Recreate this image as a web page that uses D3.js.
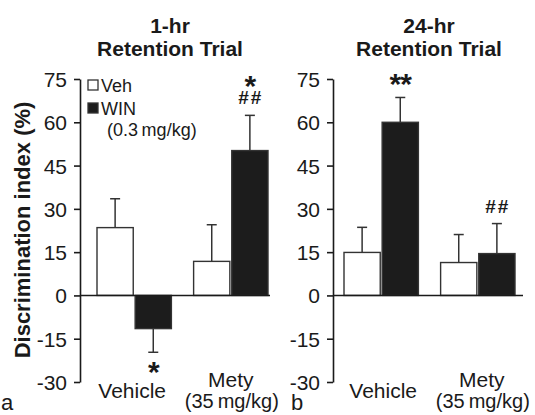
<!DOCTYPE html>
<html>
<head>
<meta charset="utf-8">
<script src="https://cdn.jsdelivr.net/npm/d3@7"></script>
<style>
  body { margin: 0; background: #fff; }
  text { font-family: "Liberation Sans", Arial, sans-serif; fill: #1a1a1a; }
</style>
</head>
<body>
<svg id="chart" width="535" height="415"></svg>
<script>
// data
var groups = ["Vehicle", "Mety"];
var series = ["Veh", "WIN"];
var yTicks = [-30, -15, 0, 15, 30, 45, 60, 75];
// panel a: 1-hr retention trial
var hr1Mean = [[23.5, -11.5], [11.8, 50.2]];
var hr1Sem = [[10.0, 8.2], [12.7, 12.2]];
var hr1Marks = [["", "*"], ["", "*|##"]];
// panel b: 24-hr retention trial
var hr24Mean = [[14.9, 60.0], [11.4, 14.5]];
var hr24Sem = [[8.7, 8.6], [9.7, 10.4]];
var hr24Marks = [["", "**"], ["", "##"]];

var svg = d3.select("#chart");
var y = d3.scaleLinear().domain([-30, 75]).range([382, 79]);
var ink = "#1a1a1a";

//draw significance marks, stacked from the error bar tip outward
function drawMarks(g, cx, tipY, up, m) {
  var parts = m.split("|").reverse(), cur = tipY, prevHash = false;
  parts.forEach(function(p) {
    var star = p.indexOf("*") >= 0;
    var t = g.append("text").attr("x", cx).attr("text-anchor", "middle")
      .style("font-weight", "bold").text(p);
    if (star) {
      //asterisk glyph sits between ~0.39em and ~0.72em above the baseline
      t.style("font-size", "30px").style("letter-spacing", "-1px");
      if (up) {
        var gap = prevHash ? 7 : 15;
        t.attr("y", cur - gap + 11.7); cur = cur - gap - 10;
      } else {
        t.attr("y", cur + 8 + 21.6);
      }
    } else {
      t.style("font-size", "19px").style("letter-spacing", "2px").attr("dx", 1);
      t.attr("y", cur - 11); cur = cur - 11 - 13; prevHash = true;
    }
  });
}

function panel(opts) {
  var g = svg.append("g");
  var x0 = d3.scaleBand().domain(groups).range(opts.barRange).paddingInner(0.23);
  var x1 = d3.scaleBand().domain(series).range([0, x0.bandwidth()]).paddingInner(0.05);

  //axis
  var ax = g.append("g").attr("transform", "translate(" + opts.axisX + ",0)")
    .call(d3.axisLeft(y).tickValues(yTicks).tickFormat(function(d) { return String(d); })
      .tickSize(6).tickPadding(7).tickSizeOuter(0));
  ax.select(".domain").attr("stroke", ink).attr("stroke-width", 1.6);
  ax.selectAll(".tick line").attr("stroke", ink).attr("stroke-width", 1.6);
  ax.selectAll(".tick text").style("font-size", "21px").attr("fill", ink).attr("font-family", null)
    .attr("dy", "0.36em");

  //bars
  groups.forEach(function(grp, gi) {
    series.forEach(function(s, si) {
      var v = opts.mean[gi][si], e = opts.sem[gi][si];
      var bx = x0(grp) + x1(s), bw = x1.bandwidth(), cx = bx + bw / 2;
      var tip = v + (v >= 0 ? e : -e);
      g.append("line").attr("x1", cx).attr("x2", cx).attr("y1", y(v)).attr("y2", y(tip))
        .attr("stroke", "#333").attr("stroke-width", 1.5);
      g.append("line").attr("x1", cx - 5).attr("x2", cx + 5).attr("y1", y(tip)).attr("y2", y(tip))
        .attr("stroke", "#333").attr("stroke-width", 1.5);
      g.append("rect").attr("x", bx).attr("width", bw)
        .attr("y", y(Math.max(0, v))).attr("height", Math.abs(y(v) - y(0)))
        .attr("fill", si == 0 ? "#fff" : "#1c1c1c").attr("stroke", "#333").attr("stroke-width", 1.4);
      var m = opts.marks[gi][si];
      if (m) drawMarks(g, cx, y(tip), v >= 0, m);
    });
    //category labels
    var gx = x0(grp) + x0.bandwidth() / 2 + opts.labelDx;
    if (grp == "Vehicle") {
      g.append("text").attr("x", gx - 2).attr("y", 398).attr("text-anchor", "middle")
        .style("font-size", "21px").text("Vehicle");
    } else {
      g.append("text").attr("x", gx).attr("y", 387).attr("text-anchor", "middle")
        .style("font-size", "21px").text("Mety");
      g.append("text").attr("x", gx + 1).attr("y", 408).attr("text-anchor", "middle")
        .style("font-size", "20px").text("(35\u2009mg/kg)");
    }
  });

  //zero line
  g.append("line").attr("x1", opts.axisX).attr("x2", opts.zeroEnd).attr("y1", y(0)).attr("y2", y(0))
    .attr("stroke", ink).attr("stroke-width", 1.6);

  //title
  g.append("text").attr("x", opts.titleX).attr("y", 33).attr("text-anchor", "middle")
    .style("font-size", "21px").style("font-weight", "bold").text(opts.title);
  g.append("text").attr("x", opts.titleX).attr("y", 56).attr("text-anchor", "middle")
    .style("font-size", "21px").style("font-weight", "bold").text("Retention Trial");

  //panel letter
  g.append("text").attr("x", opts.letterX).attr("y", 410).style("font-size", "22px").text(opts.letter);
  return g;
}

panel({ axisX: 80, barRange: [97, 268], zeroEnd: 270, mean: hr1Mean, sem: hr1Sem, marks: hr1Marks,
  title: "1-hr", titleX: 170, letter: "a", letterX: 1, labelDx: 0 });
panel({ axisX: 333, barRange: [344, 515], zeroEnd: 523, mean: hr24Mean, sem: hr24Sem, marks: hr24Marks,
  title: "24-hr", titleX: 429, letter: "b", letterX: 291, labelDx: 4 });

//legend
var leg = svg.append("g");
series.forEach(function(s, i) {
  leg.append("rect").attr("x", 88).attr("y", 80 + i * 23).attr("width", 10).attr("height", 10)
    .attr("fill", i == 0 ? "#fff" : "#1c1c1c").attr("stroke", "#333").attr("stroke-width", 1.3);
  leg.append("text").attr("x", 101).attr("y", 92 + i * 23).style("font-size", "18px").text(s);
});
leg.append("text").attr("x", 107).attr("y", 136).style("font-size", "18px").text("(0.3\u2009mg/kg)");

//y label
svg.append("text").attr("transform", "translate(30,230) rotate(-90)").attr("text-anchor", "middle")
  .style("font-size", "22px").style("font-weight", "bold").text("Discrimination index (%)");
</script>
</body>
</html>
